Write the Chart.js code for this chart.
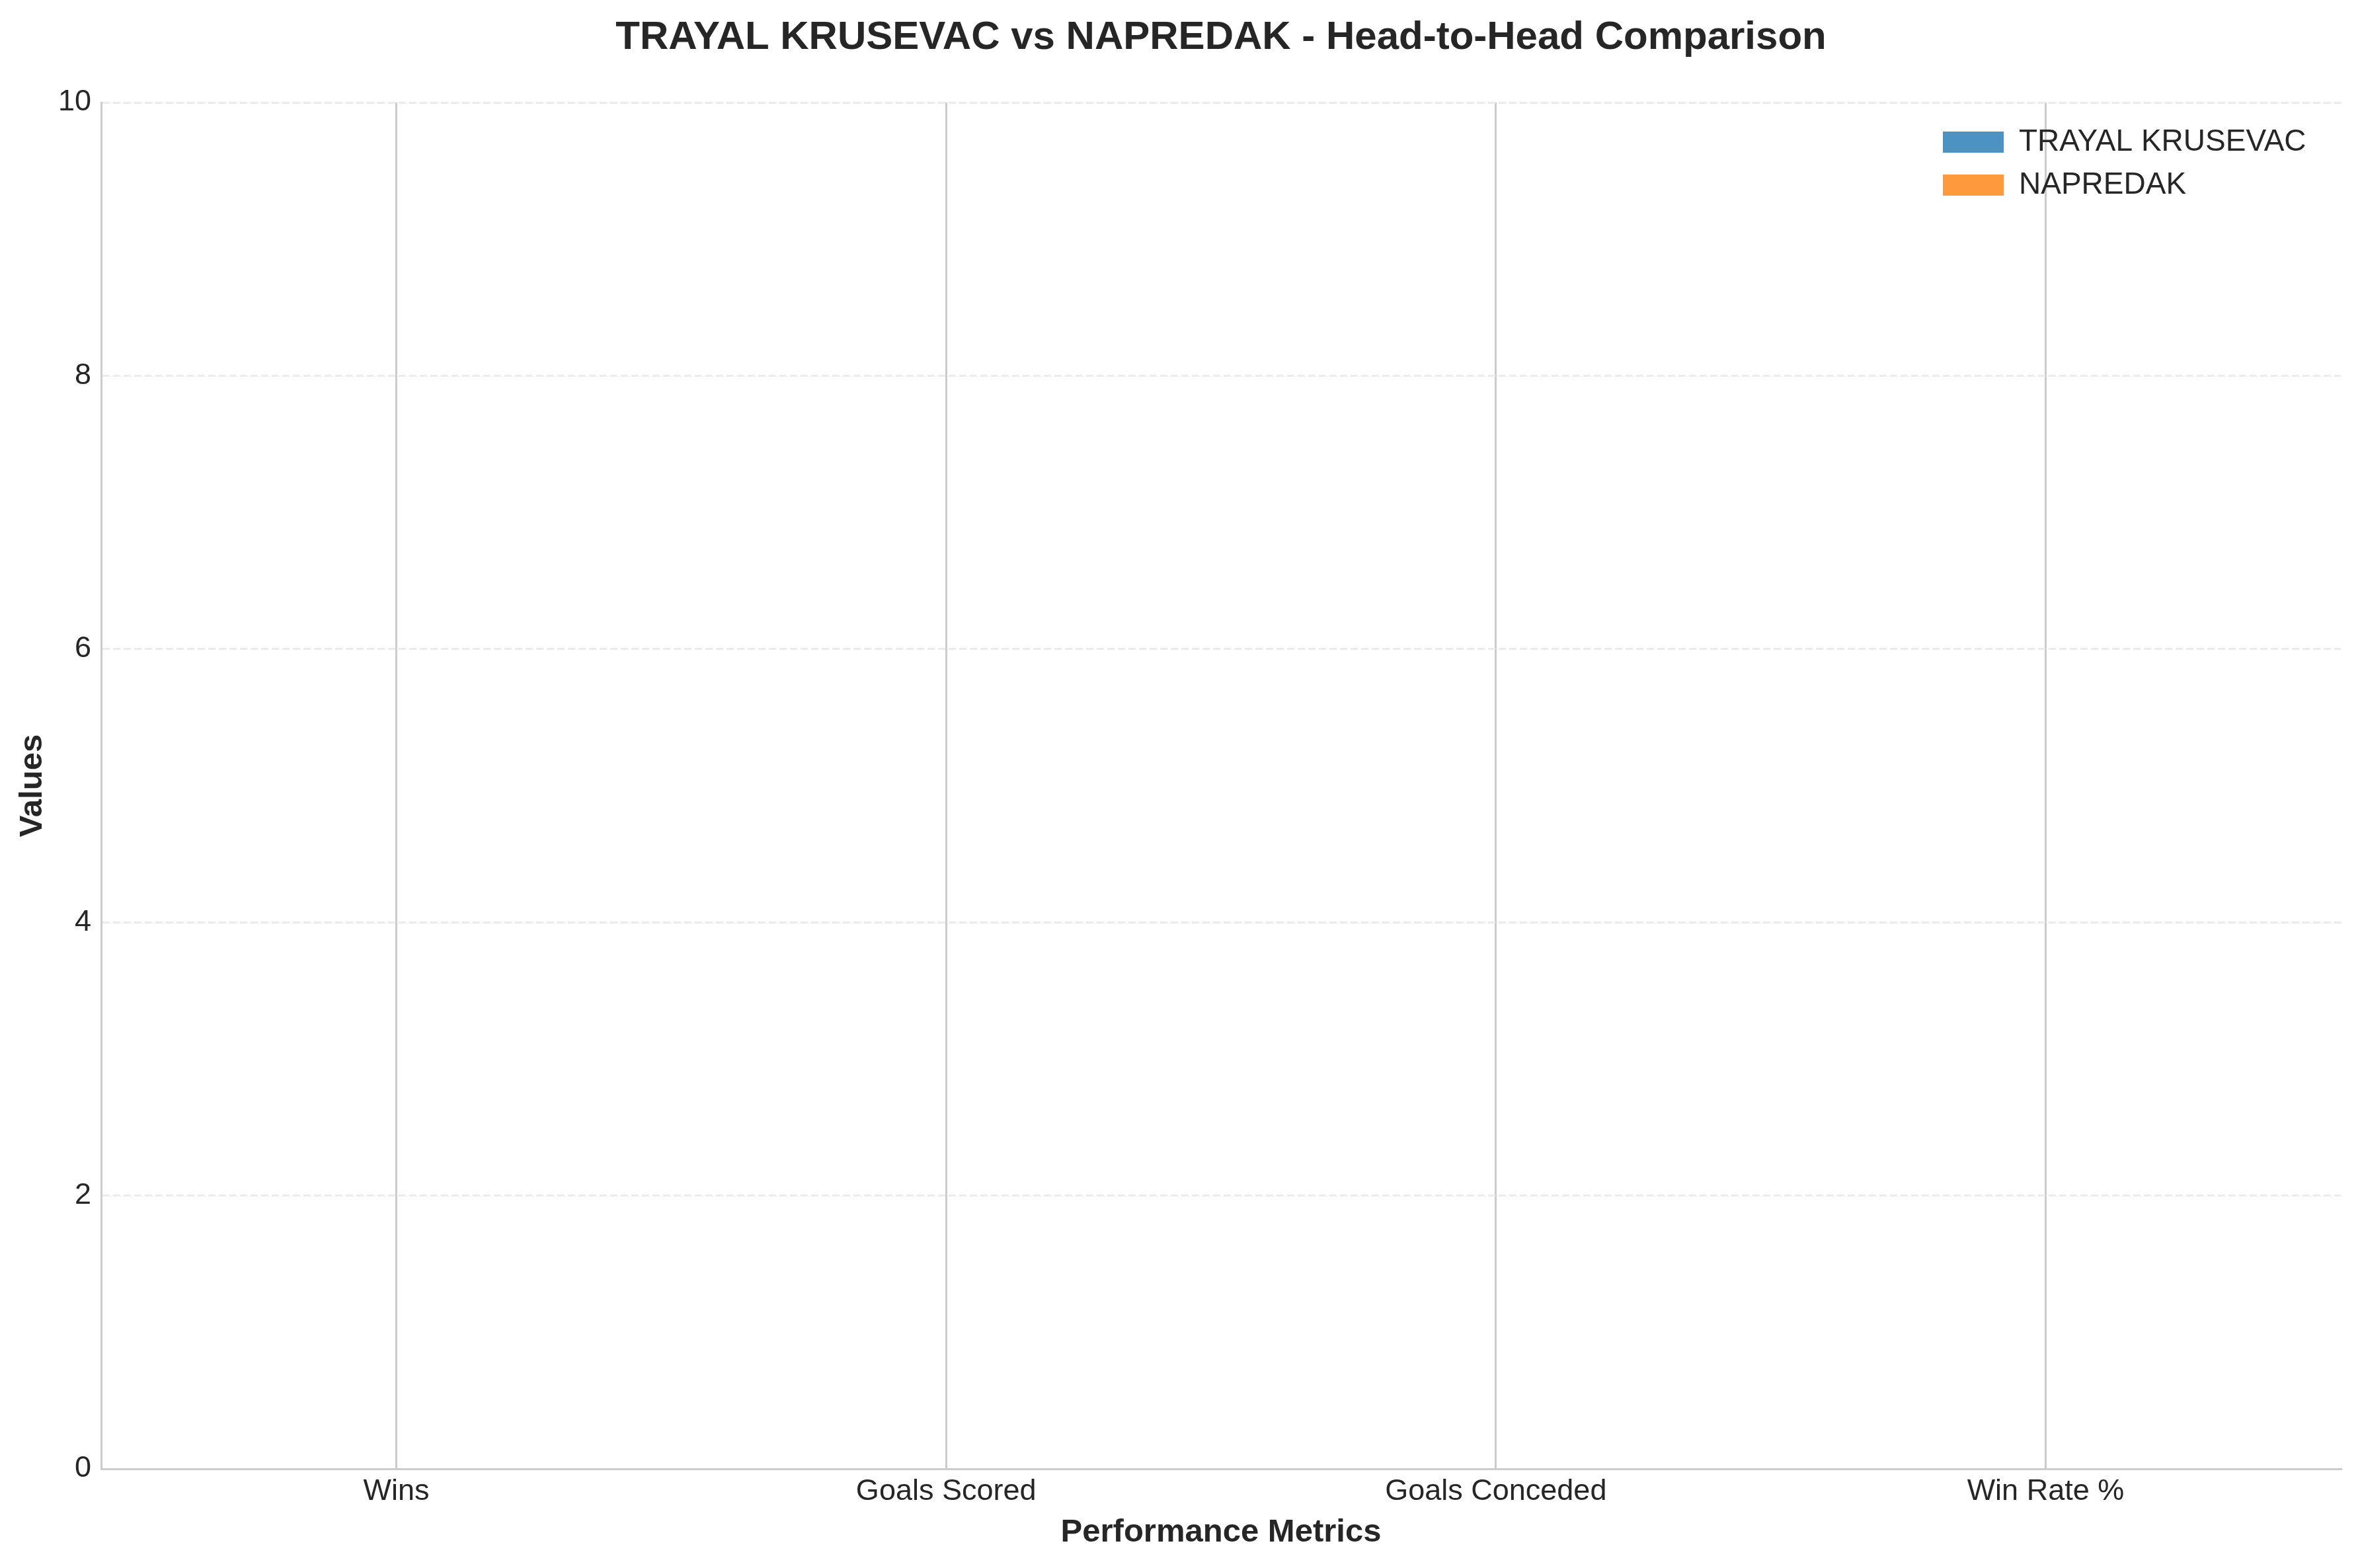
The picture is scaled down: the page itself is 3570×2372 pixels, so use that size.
<!DOCTYPE html>
<html>
<head>
<meta charset="utf-8">
<script src="https://cdn.jsdelivr.net/npm/chart.js@4.4.1/dist/chart.umd.min.js"></script>
<style>
  html, body { margin: 0; padding: 0; background: #fff; }
  #wrap { width: 3570px; height: 2372px; }
</style>
</head>
<body>
<div id="wrap"><canvas id="h2hChart"></canvas></div>
<script>
// data: every bar is zero
var categories = ["Wins", "Goals Scored", "Goals Conceded", "Win Rate %"];
var trayalValues = [0, 0, 0, 0];
var napredakValues = [0, 0, 0, 0];
var yTicks = [0, 2, 4, 6, 8, 10];
var seriesNames = ["TRAYAL KRUSEVAC", "NAPREDAK"];

var textColor = "#262626";
var fontFamily = "'Liberation Sans', Arial, sans-serif";

// move title over the plot and the legend into its top-right corner
var placeBlocks = {
    id: "placeBlocks",
    afterLayout: function (chart) {
        var ca = chart.chartArea;
        var lg = chart.legend;
        var pad = lg.options.labels.padding;
        lg.left = ca.right - 602 - pad;
        lg.right = lg.left + lg.width;
        lg.top = ca.top + 37 - pad;
        lg.bottom = lg.top + 600;
        var t = chart.titleBlock;
        t.left = ca.left;
        t.right = ca.right;
    }
};

var ctx = document.getElementById("h2hChart");
var h2hChart = new Chart(ctx, {
    type: "bar",
    data: {
        // category positions 0..n-1 on a linear axis, names come from the tick callback
        labels: categories.map(function (c, i) { return i; }),
        datasets: [
            {
                label: seriesNames[0],
                backgroundColor: "rgba(31,119,180,0.8)",
                borderWidth: 0,
                data: trayalValues
            },
            {
                label: seriesNames[1],
                backgroundColor: "rgba(255,127,14,0.8)",
                borderWidth: 0,
                data: napredakValues
            }
        ]
    },
    options: {
        responsive: true,
        maintainAspectRatio: false,
        devicePixelRatio: 1,
        animation: false,
        layout: { padding: { left: 0, right: 29, top: 0, bottom: 0 } },
        datasets: { bar: { barPercentage: 1, categoryPercentage: 0.7 } },
        scales: {
            x: {
                type: "linear",
                min: -0.537,
                max: 3.537,
                offset: false,
                afterFit: function (scale) { scale.height = 150; },
                afterBuildTicks: function (scale) {
                    scale.ticks = categories.map(function (c, i) { return { value: i }; });
                },
                ticks: {
                    autoSkip: false,
                    maxRotation: 0,
                    padding: 8,
                    color: textColor,
                    font: { family: fontFamily, size: 45 },
                    callback: function (v) { return categories[v]; }
                },
                grid: {
                    offset: false,
                    drawTicks: false,
                    color: "#cccccc",
                    lineWidth: 3
                },
                border: { display: true, color: "#cccccc", width: 3 },
                title: {
                    display: true,
                    text: "Performance Metrics",
                    color: textColor,
                    font: { family: fontFamily, size: 49, weight: "bold" },
                    padding: { top: 0, bottom: 24 }
                }
            },
            y: {
                min: 0,
                max: 10,
                afterFit: function (scale) { scale.width = 153; },
                afterBuildTicks: function (scale) {
                    scale.ticks = yTicks.map(function (v) { return { value: v }; });
                },
                ticks: {
                    padding: 15,
                    color: textColor,
                    font: { family: fontFamily, size: 45 }
                },
                grid: {
                    drawTicks: false,
                    color: "#ebebeb",
                    lineWidth: 3
                },
                border: { display: true, color: "#cccccc", width: 3, dash: [11, 5] },
                title: {
                    display: true,
                    text: "Values",
                    color: textColor,
                    font: { family: fontFamily, size: 49, weight: "bold" },
                    padding: { top: 20, bottom: 0 }
                }
            }
        },
        plugins: {
            title: {
                display: true,
                text: "TRAYAL KRUSEVAC vs NAPREDAK - Head-to-Head Comparison",
                color: textColor,
                font: { family: fontFamily, size: 60, weight: "bold" },
                padding: { top: 21, bottom: 62 }
            },
            legend: {
                position: "chartArea",
                align: "start",
                labels: {
                    color: textColor,
                    font: { family: fontFamily, size: 46 },
                    boxWidth: 92,
                    boxHeight: 32,
                    padding: 19
                }
            },
            tooltip: { enabled: false }
        }
    },
    plugins: [placeBlocks]
});
</script>
</body>
</html>
